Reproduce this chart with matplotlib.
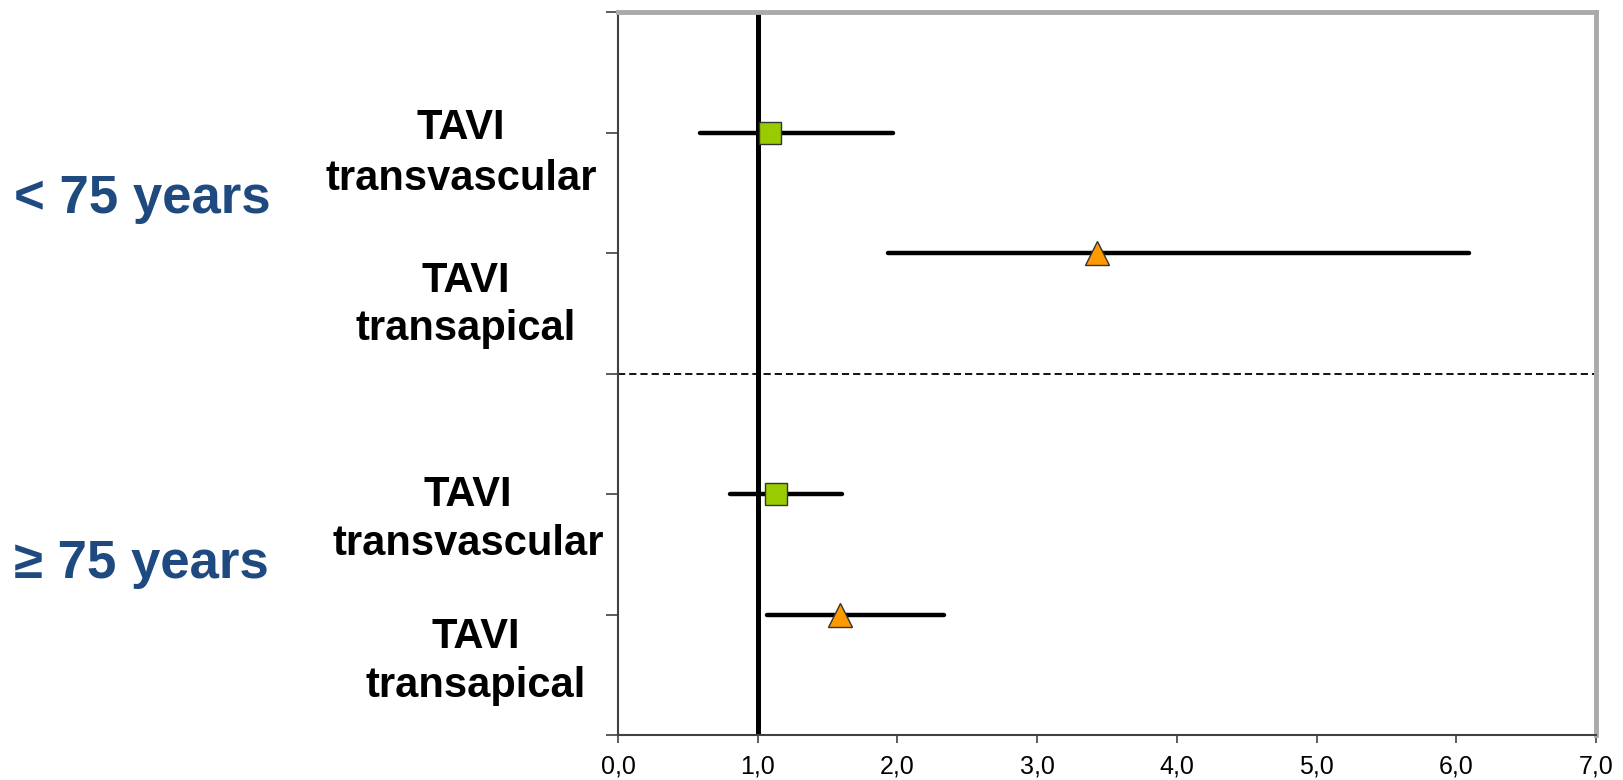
import matplotlib
matplotlib.use("Agg")
from matplotlib import pyplot as plt

plt.rcParams['font.family'] = ['Liberation Sans', 'DejaVu Sans']

# data
rows = ['TAVI\ntransvascular', 'TAVI\ntransapical', 'TAVI\ntransvascular', 'TAVI\ntransapical']
estimate = [1.09, 3.43, 1.13, 1.59]
lower = [0.59, 1.93, 0.80, 1.07]
upper = [1.97, 6.09, 1.60, 2.33]
groups = ['< 75 years', '\u2265 75 years']
xticks = [0, 1, 2, 3, 4, 5, 6, 7]
xlabels = ['0,0', '1,0', '2,0', '3,0', '4,0', '5,0', '6,0', '7,0']

row_pos = [5, 4, 2, 1]
markers = ['s', '^', 's', '^']
colors = ['#99CC00', '#FF9900', '#99CC00', '#FF9900']
msize = [16, 17, 16, 17]

W, H = 1623, 780
fig = plt.figure(figsize=(W / 100, H / 100), dpi=100)
ax = fig.add_axes([618 / W, 45 / H, 978 / W, 723 / H])

ax.set_xlim(0, 7)
ax.set_ylim(0, 6)

ax.axvline(1, color='black', lw=3.6, zorder=2)
ax.axhline(3, color='black', lw=1.3, dashes=(4, 2.2), zorder=2)

ax.hlines(row_pos, lower, upper, colors='black', lw=3.2, capstyle='round', zorder=3)
for y, e, m, c, s in zip(row_pos, estimate, markers, colors, msize):
    ax.plot(e, y, marker=m, ms=s, mfc=c, mec='#333333', mew=1.0, ls='none', zorder=4)

ax.set_xticks(xticks)
ax.set_xticklabels(xlabels, fontsize=18)
ax.set_yticks(range(0, 7))
ax.set_yticklabels([])
ax.tick_params(axis='x', direction='out', length=6, width=1.2, color='#404040', pad=8)
ax.tick_params(axis='y', direction='out', length=9, width=1.2, color='#404040')

for side in ['left', 'bottom']:
    ax.spines[side].set_color('#404040')
    ax.spines[side].set_linewidth(1.5)
for side in ['top', 'right']:
    ax.spines[side].set_color('#AAAAAA')
    ax.spines[side].set_linewidth(3.5)

# row labels, placed as in the original slide (pixel positions)
label_xy = [(461, 139, 190), (466, 292, 340), (468, 506, 555), (476, 648, 697)]
for text, (cx, b1, b2) in zip(rows, label_xy):
    top, bottom = text.split('\n')
    fig.text(cx / W, 1 - b1 / H, top, ha='center', va='baseline',
             fontsize=30, fontweight='bold', color='black')
    fig.text(cx / W, 1 - b2 / H, bottom, ha='center', va='baseline',
             fontsize=30, fontweight='bold', color='black')

for g, b in zip(groups, [213, 578]):
    fig.text(14 / W, 1 - b / H, g, ha='left', va='baseline',
             fontsize=38, fontweight='bold', color='#1F4A80')

fig.savefig('out.png', dpi=100)
